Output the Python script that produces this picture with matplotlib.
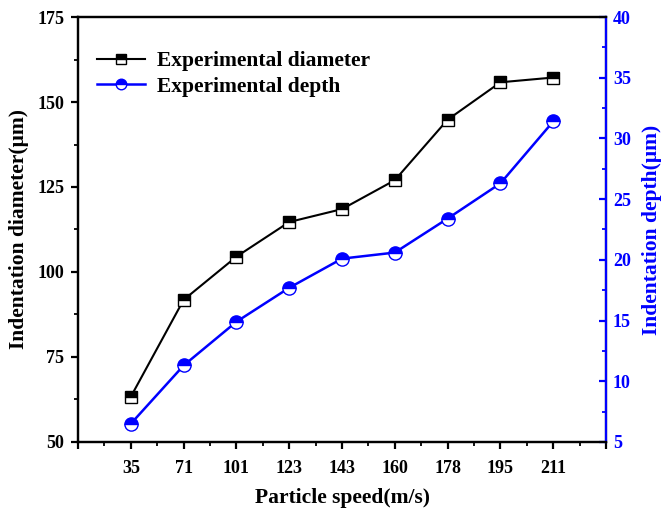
import matplotlib
matplotlib.use("Agg")
import matplotlib.pyplot as plt
from matplotlib.ticker import MultipleLocator, FixedLocator

plt.rcParams['font.family'] = ['Liberation Serif', 'DejaVu Serif']
plt.rcParams['font.weight'] = 'bold'

# data
speeds = ['35', '71', '101', '123', '143', '160', '178', '195', '211']
diameter = [63.3, 91.8, 104.5, 114.7, 118.5, 127.0, 144.8, 155.8, 157.2]
depth = [6.5, 11.3, 14.9, 17.7, 20.1, 20.6, 23.4, 26.3, 31.4]

blue = '#0000ff'
xs = list(range(1, len(speeds) + 1))

fig = plt.figure(figsize=(6.64, 5.08), dpi=100)
ax = fig.add_axes([0.1175, 0.130, 0.7952, 0.8365])
ax2 = ax.twinx()

l1, = ax.plot(xs, diameter, color='black', lw=1.5, marker='s', ms=8.5,
              fillstyle='top', markerfacecolor='black', markerfacecoloralt='white',
              markeredgecolor='black', markeredgewidth=1.0, label='Experimental diameter')
l2, = ax2.plot(xs, depth, color=blue, lw=1.8, marker='o', ms=9.5,
               fillstyle='top', markerfacecolor=blue, markerfacecoloralt='white',
               markeredgecolor=blue, markeredgewidth=1.0, label='Experimental depth')

ax.set_xlim(0, 10)
ax.set_ylim(50, 175)
ax2.set_ylim(5, 40)

ax.xaxis.set_major_locator(FixedLocator(list(range(0, 11))))
ax.set_xticklabels([''] + speeds + [''])
ax.xaxis.set_minor_locator(MultipleLocator(0.5))
ax.yaxis.set_major_locator(MultipleLocator(25))
ax.yaxis.set_minor_locator(MultipleLocator(12.5))
ax2.yaxis.set_major_locator(MultipleLocator(5))
ax2.yaxis.set_minor_locator(MultipleLocator(2.5))

for sp in ax.spines.values():
    sp.set_linewidth(1.6)
for sp in ax2.spines.values():
    sp.set_linewidth(1.6)
ax2.spines['right'].set_color(blue)

ax.tick_params(axis='both', which='major', direction='out', length=5, width=1.6, labelsize=13, pad=5)
ax.tick_params(axis='both', which='minor', direction='out', length=3, width=1.3)
ax.tick_params(axis='x', which='both', top=False)
ax.tick_params(axis='x', which='major', pad=8)
ax2.tick_params(axis='y', which='major', direction='in', length=5, width=1.6,
                colors=blue, labelsize=13, pad=5)
ax2.tick_params(axis='y', which='minor', direction='in', length=3, width=1.3, colors=blue)

for lab in ax.get_xticklabels() + ax.get_yticklabels() + ax2.get_yticklabels():
    lab.set_fontweight('bold')

ax.set_xlabel('Particle speed(m/s)', fontsize=15.5, fontweight='bold', labelpad=8)
ax.set_ylabel('Indentation diameter(μm)', fontsize=15.5, fontweight='bold', labelpad=6)
ax2.set_ylabel('Indentation depth(μm)', fontsize=15.5, fontweight='bold', color=blue, labelpad=8)

ax.legend(handles=[l1, l2], loc='upper left', bbox_to_anchor=(0.02, 0.94), frameon=False,
          prop={'size': 15.5, 'weight': 'bold'}, handlelength=2.2, handletextpad=0.6,
          labelspacing=0.25, borderaxespad=0, markerscale=0.8)

fig.savefig('out.png', dpi=100)
